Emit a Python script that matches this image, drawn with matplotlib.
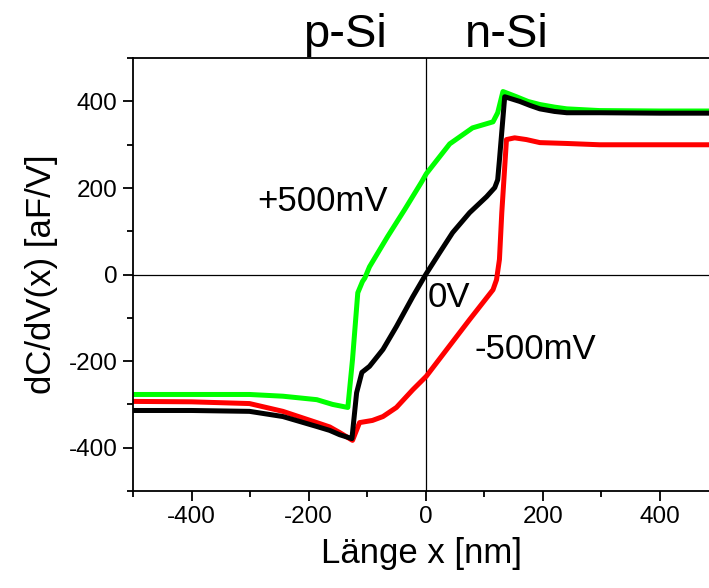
import numpy as np
import matplotlib
matplotlib.use("Agg")
import matplotlib.pyplot as plt
from matplotlib.ticker import MultipleLocator

plt.rcParams['font.family'] = ['Liberation Sans', 'DejaVu Sans']
plt.rcParams['axes.unicode_minus'] = False

# +500 mV (green)
x_pos = [-500, -400, -301, -244, -186, -159, -133, -125, -116, -108, -104, -96,
         -65, -36, -7, 1, 41, 80, 115, 123, 132, 155, 175, 195, 220, 241, 297, 400, 484]
y_pos = [-277, -277, -277, -281, -289, -300, -307, -196, -42, -16, -8, 18,
         88, 150, 214, 233, 302, 339, 353, 374, 423, 411, 400, 393, 387, 383, 379, 378, 378]

# 0 V (black)
x_0 = [-500, -400, -301, -244, -186, -164, -147, -126, -118, -109, -96, -73,
       -50, -22, 0, 24, 46, 75, 104, 118, 123, 126, 135, 161, 178, 195, 220, 241, 297, 400, 484]
y_0 = [-314, -314, -316, -328, -351, -360, -370, -379, -273, -226, -212, -173,
       -120, -51, 0, 51, 97, 143, 180, 201, 219, 265, 411, 400, 391, 383, 377, 374, 374, 373, 373]

# -500 mV (red)
x_neg = [-500, -400, -301, -244, -186, -164, -147, -125, -113, -91, -73, -50, -22,
         1, 36, 75, 115, 121, 126, 130, 138, 152, 172, 195, 241, 297, 400, 484]
y_neg = [-293, -294, -298, -316, -342, -352, -365, -383, -342, -337, -328, -307, -266,
         -235, -173, -104, -35, -12, 35, 143, 312, 316, 312, 305, 303, 300, 300, 300]

fig = plt.figure(figsize=(7.09, 5.88), dpi=100)
ax = fig.add_axes([0.1876, 0.165, 0.8124, 0.736])

ax.axhline(0, color='k', lw=0.9, zorder=1)
ax.axvline(0, color='k', lw=0.9, zorder=1)

kw = dict(lw=3.6, solid_joinstyle='round', solid_capstyle='round')
ax.plot(x_pos, y_pos, color='#00ff00', **kw)
ax.plot(x_neg, y_neg, color='#ff0000', **kw)
ax.plot(x_0, y_0, color='k', **kw)

ax.set_xlim(-500, 484)
ax.set_ylim(-500, 500)
ax.xaxis.set_major_locator(MultipleLocator(200))
ax.xaxis.set_minor_locator(MultipleLocator(100))
ax.yaxis.set_major_locator(MultipleLocator(200))
ax.yaxis.set_minor_locator(MultipleLocator(100))
ax.tick_params(which='both', direction='out', width=1.3, labelsize=17.5, top=False, right=False)
ax.tick_params(which='major', length=7, pad=4)
ax.tick_params(which='minor', length=4)
ax.spines['right'].set_visible(False)
for s in ['left', 'bottom', 'top']:
    ax.spines[s].set_linewidth(1.3)

ax.set_xlabel('Länge x [nm]', fontsize=25, labelpad=6)
ax.set_ylabel('dC/dV(x) [aF/V]', fontsize=25, labelpad=8)

ax.text(-287, 168, '+500mV', fontsize=25, ha='left', va='center')
ax.text(3, -54, '0V', fontsize=25, ha='left', va='center')
ax.text(84, -173, '-500mV', fontsize=25, ha='left', va='center')
ax.text(-138, 527, 'p-Si', fontsize=34, ha='center', va='baseline', clip_on=False)
ax.text(138, 527, 'n-Si', fontsize=34, ha='center', va='baseline', clip_on=False)

fig.savefig('out.png', dpi=100)
